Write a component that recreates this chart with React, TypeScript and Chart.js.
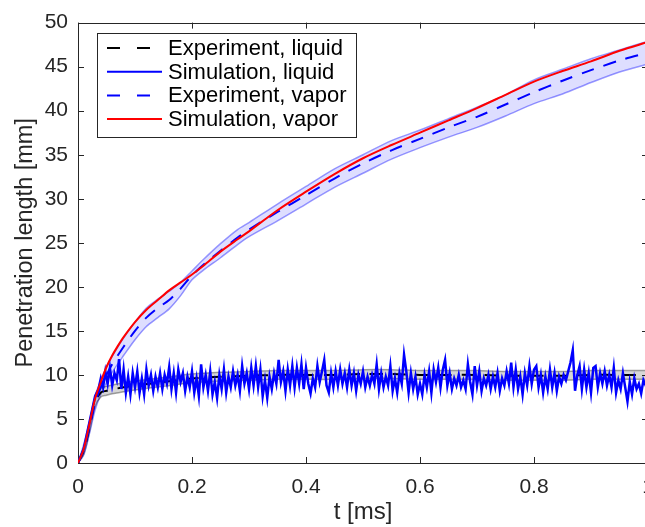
import React, { useEffect, useRef } from "react";
import { Chart, registerables } from "chart.js";

Chart.register(...registerables);

// ---------- data ----------
const xTicks = [0, 0.2, 0.4, 0.6, 0.8, 1];
const yTicks = [0, 5, 10, 15, 20, 25, 30, 35, 40, 45, 50];

// Experiment, vapor (mean, upper, lower)
const tVapor = [0, 0.01, 0.02, 0.03, 0.04, 0.05, 0.06, 0.08, 0.10, 0.12, 0.14, 0.16, 0.18, 0.20, 0.22, 0.25, 0.28, 0.30, 0.35, 0.40, 0.45, 0.50, 0.55, 0.60, 0.65, 0.70, 0.75, 0.80, 0.85, 0.90, 0.95, 1.0];
const expVapor = [0, 1.5, 4.0, 6.8, 8.6, 10.0, 11.2, 13.2, 15.0, 16.5, 17.6, 18.5, 19.8, 21.3, 22.5, 24.1, 25.6, 26.5, 28.5, 30.4, 32.3, 34.0, 35.5, 36.8, 38.1, 39.3, 40.7, 42.1, 43.4, 44.6, 45.7, 46.6];
const expVaporUpper = [0, 2.1, 4.7, 7.6, 9.4, 10.9, 12.1, 14.2, 16.0, 17.6, 18.6, 19.5, 20.5, 21.8, 23.1, 24.9, 26.5, 27.3, 29.4, 31.4, 33.4, 35.0, 36.6, 37.8, 39.1, 40.4, 41.8, 43.5, 44.7, 45.9, 46.9, 47.9];
const expVaporLower = [0, 0.9, 3.3, 6.0, 7.8, 9.1, 10.3, 12.2, 14.0, 15.5, 16.5, 17.5, 19.0, 20.8, 21.9, 23.3, 24.8, 25.7, 27.5, 29.4, 31.3, 32.9, 34.5, 35.8, 37.0, 38.1, 39.4, 40.8, 41.9, 43.2, 44.4, 45.3];

// Simulation, vapor
const tSimVapor = [0, 0.01, 0.02, 0.03, 0.04, 0.05, 0.06, 0.07, 0.08, 0.10, 0.12, 0.14, 0.16, 0.18, 0.20, 0.22, 0.25, 0.28, 0.30, 0.35, 0.40, 0.45, 0.50, 0.55, 0.60, 0.65, 0.70, 0.75, 0.80, 0.85, 0.90, 0.95, 1.0];
const simVapor = [0, 1.6, 4.4, 7.3, 9.2, 10.9, 12.2, 13.3, 14.3, 16.0, 17.4, 18.5, 19.6, 20.5, 21.4, 22.4, 24.0, 25.4, 26.3, 28.7, 30.8, 32.8, 34.6, 36.1, 37.5, 38.9, 40.3, 41.8, 43.3, 44.5, 45.6, 46.8, 47.8];

// Experiment, liquid (mean, upper, lower)
const tLiquid = [0, 0.01, 0.02, 0.03, 0.04, 0.05, 0.06, 0.08, 0.10, 0.15, 0.20, 0.25, 0.30, 0.35, 0.40, 0.45, 0.50, 0.55, 0.60, 0.65, 0.70, 0.75, 0.80, 0.85, 0.90, 0.95, 1.0];
const expLiquid = [0, 1.4, 4.0, 6.9, 8.0, 8.2, 8.35, 8.6, 8.8, 9.2, 9.6, 9.8, 9.9, 10.0, 10.0, 10.0, 10.1, 10.1, 10.0, 10.0, 10.0, 9.9, 9.9, 9.9, 10.0, 10.0, 10.0];
const expLiquidUpper = [0, 1.8, 4.5, 7.4, 8.5, 8.7, 8.85, 9.1, 9.3, 9.7, 10.1, 10.3, 10.4, 10.5, 10.5, 10.5, 10.6, 10.6, 10.5, 10.5, 10.5, 10.4, 10.4, 10.4, 10.5, 10.5, 10.5];
const expLiquidLower = [0, 1.0, 3.5, 6.4, 7.5, 7.7, 7.85, 8.1, 8.3, 8.7, 9.1, 9.3, 9.4, 9.5, 9.5, 9.5, 9.6, 9.6, 9.5, 9.5, 9.5, 9.4, 9.4, 9.4, 9.5, 9.5, 9.5];

// Simulation, liquid: initial rise, then samples every 0.004 ms from 0.036 ms
const tSimLiquidRise = [0, 0.01, 0.02, 0.03];
const simLiquidRise = [0, 1.6, 4.6, 7.6];
const simLiquidStart = 0.036;
const simLiquidStep = 0.004;
const simLiquid = [
  8.4, 9.6, 8.6, 10.4, 9.0, 10.8, 8.8, 10.2, 9.4, 11.8, 8.4, 10.6, 8.0, 9.8, 7.8, 10.2,
  8.6, 10.4, 8.0, 9.6, 7.8, 10.6, 8.8, 10.0, 8.2, 9.8, 8.6, 10.2, 8.4, 10.0, 9.0, 10.9,
  8.4, 10.2, 8.0, 10.6, 9.2, 10.2, 8.2, 9.8, 8.6,
  10.4, 8.0, 9.6, 7.6, 11.2, 8.6, 10.0, 8.2, 10.4, 7.8, 9.2, 7.4, 10.0, 8.4, 10.6, 8.0,
  9.8, 8.6, 10.4, 8.8, 10.0, 8.2, 11.0, 9.0, 10.2, 8.4, 10.8, 8.8, 11.0, 8.6, 10.6, 7.6,
  9.4, 7.4, 9.8, 8.4, 10.2, 9.0, 11.7, 9.2, 10.4, 8.2, 10.6, 8.8, 11.0, 8.6, 10.8, 9.0,
  11.2, 8.4,
  10.8, 9.0, 7.9, 9.6, 8.6, 11.0, 9.2, 10.4, 11.7, 8.8, 8.0, 10.2, 8.6, 10.4, 8.8, 10.6,
  9.0, 10.2, 8.6, 10.6, 8.8, 10.2, 8.2, 10.0, 9.0, 10.4, 8.6, 9.8, 8.8, 10.0, 9.0, 11.2,
  8.4, 10.2, 8.6, 9.8, 8.8, 11.0, 8.2, 9.6, 8.0, 10.2, 9.0, 12.3, 10.4, 8.0, 10.2, 8.4,
  9.8, 7.8,
  9.0, 7.8, 10.0, 8.6, 10.4, 8.0, 10.6, 9.2, 10.8, 8.6, 10.6, 11.7, 8.8, 10.2, 8.4, 9.6,
  8.8, 10.0, 8.6, 9.4, 8.4, 11.2, 9.2, 7.8, 11.0, 8.8, 10.4, 8.2, 9.6, 8.8, 10.0, 8.4,
  9.8, 8.6, 10.2, 8.2, 9.6, 8.8, 10.4, 9.0, 11.4, 8.6, 10.6, 8.4, 9.8, 7.8, 10.2, 8.8,
  11.0, 9.0,
  10.6, 11.0, 8.6, 10.0, 8.0, 9.8, 8.4, 10.6, 8.6, 10.2, 8.2, 9.8, 9.0, 10.0, 9.4, 10.4,
  11.4, 12.8, 8.2, 10.0, 11.0, 8.4, 10.6, 8.6, 10.2, 8.0, 10.8, 11.0, 8.6, 10.2, 9.0, 10.4,
  8.8, 10.0, 8.6, 10.8, 8.0, 9.4, 8.4, 10.2, 8.6, 7.0, 9.2, 7.8, 9.6, 8.4, 9.0, 7.9,
  9.4, 8.8, 9.8,
];

const legendLabels = ["Experiment, liquid", "Simulation, liquid", "Experiment, vapor", "Simulation, vapor"];

// ---------- helpers ----------
const pts = (xs: number[], ys: number[]) => xs.map((x, i) => ({ x, y: ys[i] }));
const simLiquidPoints = () => [
  ...pts(tSimLiquidRise, simLiquidRise),
  ...simLiquid.map((y, i) => ({ x: +(simLiquidStart + i * simLiquidStep).toFixed(4), y })),
];

const AXIS = "#262626";
const FONT = "'Liberation Sans', Arial, Helvetica, sans-serif";
const PLOT_DASH = [13, 10];

const legendStyles = [
  { color: "#000000", dash: [13, 17] },
  { color: "#0000ff", dash: [] as number[] },
  { color: "#0000ff", dash: [13, 17] },
  { color: "#ff0000", dash: [] as number[] },
];

const boxPlugin = {
  id: "matlabBox",
  beforeDatasetsDraw(chart: any) {
    const { ctx, chartArea: a, scales } = chart;
    ctx.save();
    ctx.strokeStyle = AXIS;
    ctx.lineWidth = 1;
    ctx.strokeRect(Math.round(a.left) + 0.5, Math.round(a.top) + 0.5, Math.round(a.right - a.left), Math.round(a.bottom - a.top));
    ctx.beginPath();
    const tl = 6;
    yTicks.forEach((v) => {
      const y = Math.round(scales.y.getPixelForValue(v)) + 0.5;
      ctx.moveTo(a.left, y);
      ctx.lineTo(a.left + tl, y);
      ctx.moveTo(a.right, y);
      ctx.lineTo(a.right - tl, y);
    });
    xTicks.forEach((v) => {
      const x = Math.round(scales.x.getPixelForValue(v)) + 0.5;
      ctx.moveTo(x, a.bottom);
      ctx.lineTo(x, a.bottom - tl);
      ctx.moveTo(x, a.top);
      ctx.lineTo(x, a.top + tl);
    });
    ctx.stroke();
    ctx.restore();
  },
};

const legendPlugin = {
  id: "matlabLegend",
  afterDraw(chart: any) {
    const ctx = chart.ctx;
    ctx.save();
    const x0 = 97, y0 = 33, w = 259, h = 104;
    ctx.fillStyle = "#ffffff";
    ctx.fillRect(x0, y0, w, h);
    ctx.strokeStyle = AXIS;
    ctx.lineWidth = 1;
    ctx.strokeRect(x0 + 0.5, y0 + 0.5, w, h);
    ctx.font = `22px ${FONT}`;
    ctx.textBaseline = "middle";
    ctx.textAlign = "left";
    legendLabels.forEach((label, i) => {
      const y = 48 + i * 23.7;
      const st = legendStyles[i];
      ctx.beginPath();
      ctx.setLineDash(st.dash);
      ctx.strokeStyle = st.color;
      ctx.lineWidth = 2;
      ctx.moveTo(107, y);
      ctx.lineTo(162, y);
      ctx.stroke();
      ctx.setLineDash([]);
      ctx.fillStyle = "#000000";
      ctx.fillText(label, 168, y + 1);
    });
    ctx.restore();
  },
};

export default function App() {
  const ref = useRef<HTMLCanvasElement | null>(null);

  useEffect(() => {
    if (!ref.current) return;
    const bandBlueBorder = "rgba(70,70,255,0.55)";
    const bandBlueFill = "rgba(0,0,255,0.13)";
    const bandGrayBorder = "rgba(0,0,0,0.35)";
    const bandGrayFill = "rgba(0,0,0,0.16)";
    const chart = new Chart(ref.current, {
      type: "line",
      data: {
        datasets: [
          { label: "vu", data: pts(tVapor, expVaporUpper), borderColor: bandBlueBorder, borderWidth: 1.5, backgroundColor: bandBlueFill, fill: "+1", tension: 0.3, order: 10 },
          { label: "vl", data: pts(tVapor, expVaporLower), borderColor: bandBlueBorder, borderWidth: 1.5, fill: false, tension: 0.3, order: 10 },
          { label: "lu", data: pts(tLiquid, expLiquidUpper), borderColor: bandGrayBorder, borderWidth: 1.5, backgroundColor: bandGrayFill, fill: "+1", tension: 0.3, order: 9 },
          { label: "ll", data: pts(tLiquid, expLiquidLower), borderColor: bandGrayBorder, borderWidth: 1.5, fill: false, tension: 0.3, order: 9 },
          { label: legendLabels[0], data: pts(tLiquid, expLiquid), borderColor: "#000000", borderWidth: 2, borderDash: PLOT_DASH, fill: false, tension: 0.3, order: 4 },
          { label: legendLabels[1], data: simLiquidPoints(), borderColor: "#0000ff", borderWidth: 2.5, fill: false, tension: 0, order: 3 },
          { label: legendLabels[2], data: pts(tVapor, expVapor), borderColor: "#0000ff", borderWidth: 2, borderDash: PLOT_DASH, fill: false, tension: 0.3, order: 2 },
          { label: legendLabels[3], data: pts(tSimVapor, simVapor), borderColor: "#ff0000", borderWidth: 2, fill: false, tension: 0.3, order: 1 },
        ],
      },
      options: {
        responsive: false,
        animation: false,
        events: [],
        elements: { point: { radius: 0 } },
        layout: { padding: { left: 0, top: 15, right: 22, bottom: 0 } },
        plugins: { legend: { display: false }, tooltip: { enabled: false }, title: { display: false } },
        scales: {
          x: {
            type: "linear",
            min: 0,
            max: 1,
            grid: { display: false, drawTicks: false },
            border: { display: false },
            afterFit: (s: any) => { s.height = 64; },
            afterBuildTicks: (s: any) => { s.ticks = xTicks.map((v) => ({ value: v })); },
            ticks: { color: AXIS, font: { family: FONT, size: 21 }, padding: 12, maxRotation: 0, autoSkip: false, callback: (v: any) => String(v) },
            title: { display: true, text: "t [ms]", color: AXIS, font: { family: FONT, size: 24 }, padding: { top: 0, bottom: 0 } },
          },
          y: {
            type: "linear",
            min: 0,
            max: 50,
            grid: { display: false, drawTicks: false },
            border: { display: false },
            afterFit: (s: any) => { s.width = 78; },
            afterBuildTicks: (s: any) => { s.ticks = yTicks.map((v) => ({ value: v })); },
            ticks: { color: AXIS, font: { family: FONT, size: 21 }, padding: 10, autoSkip: false, callback: (v: any) => String(v) },
            title: { display: true, text: "Penetration length [mm]", color: AXIS, font: { family: FONT, size: 23.5 }, padding: { top: 11, bottom: 0 } },
          },
        },
      },
      plugins: [boxPlugin, legendPlugin],
    });
    return () => chart.destroy();
  }, []);

  return (
    <div style={{ position: "fixed", left: 0, top: 0, width: 645, height: 527, overflow: "hidden", background: "#ffffff" }}>
      <canvas ref={ref} width={670} height={527} style={{ width: 670, height: 527, display: "block" }} />
    </div>
  );
}
